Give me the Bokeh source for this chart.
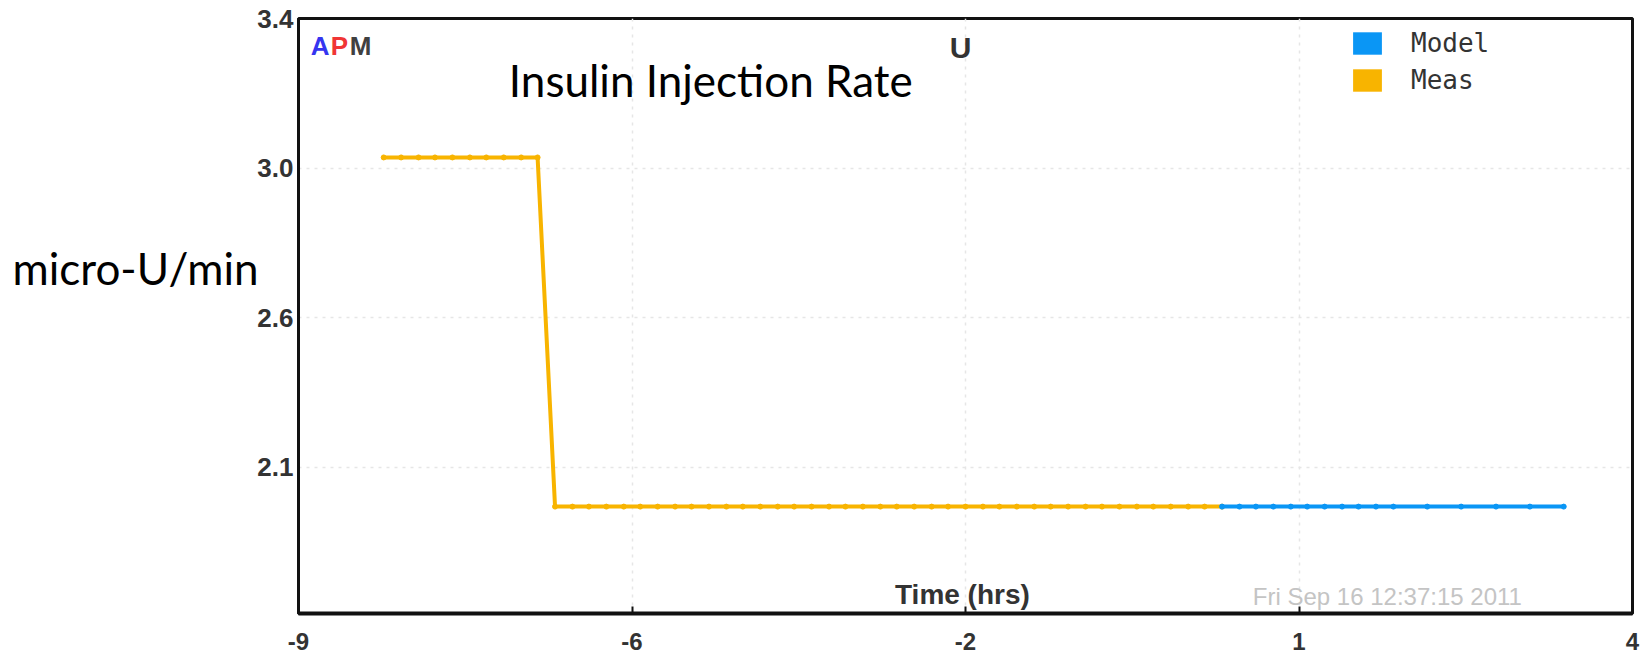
from bokeh.plotting import figure
from bokeh.models import Range1d, FixedTicker, Label, Legend, LegendItem, LinearAxis
from bokeh.embed import file_html
from bokeh.resources import INLINE

# ---- data ----
meas_t = [-8.17, -8.0, -7.83, -7.67, -7.5, -7.33, -7.17, -7.0, -6.83, -6.67,
          -6.5, -6.33, -6.17, -6.0, -5.83, -5.67, -5.5, -5.33, -5.17, -5.0,
          -4.83, -4.67, -4.5, -4.33, -4.17, -4.0, -3.83, -3.67, -3.5, -3.33,
          -3.17, -3.0, -2.83, -2.67, -2.5, -2.33, -2.17, -2.0, -1.83, -1.67,
          -1.5, -1.33, -1.17, -1.0, -0.83, -0.67, -0.5, -0.33, -0.17, 0.0]
meas_u = [3.01, 3.01, 3.01, 3.01, 3.01, 3.01, 3.01, 3.01, 3.01, 3.01,
          2.03, 2.03, 2.03, 2.03, 2.03, 2.03, 2.03, 2.03, 2.03, 2.03,
          2.03, 2.03, 2.03, 2.03, 2.03, 2.03, 2.03, 2.03, 2.03, 2.03,
          2.03, 2.03, 2.03, 2.03, 2.03, 2.03, 2.03, 2.03, 2.03, 2.03,
          2.03, 2.03, 2.03, 2.03, 2.03, 2.03, 2.03, 2.03, 2.03, 2.03]
model_t = [0.0, 0.17, 0.33, 0.5, 0.67, 0.83, 1.0, 1.17, 1.33, 1.5, 1.67,
           2.0, 2.33, 2.67, 3.0, 3.33]
model_u = [2.03, 2.03, 2.03, 2.03, 2.03, 2.03, 2.03, 2.03, 2.03, 2.03, 2.03,
           2.03, 2.03, 2.03, 2.03, 2.03]

x_ticks = [-9, -5.75, -2.5, 0.75, 4]
x_tick_labels = ["-9", "-6", "-2", "1", "4"]
y_ticks = [3.4, 2.98, 2.56, 2.14]
y_tick_labels = ["3.4", "3.0", "2.6", "2.1"]
y_caption = "micro-U/min"
y_caption_at = 2.70

MEAS_COLOR = "#F8B400"
MODEL_COLOR = "#0A96F5"

p = figure(width=1642, height=655, output_backend="svg", toolbar_location=None,
           x_range=Range1d(-9, 4), y_range=Range1d(1.73, 3.4),
           min_border_left=298, min_border_right=10,
           min_border_top=18, min_border_bottom=42)
p.background_fill_color = "white"
p.border_fill_color = "white"
p.outline_line_color = "#111111"
p.outline_line_width = 3

# axes
xa = p.xaxis[0]
xa.ticker = FixedTicker(ticks=x_ticks)
xa.major_label_overrides = {t: l for t, l in zip(x_ticks, x_tick_labels)}
xa.major_label_text_font = "Liberation Sans"
xa.major_label_text_font_style = "bold"
xa.major_label_text_font_size = "24px"
xa.major_label_text_color = "#333333"
xa.major_label_standoff = 19
xa.axis_line_color = "#111111"
xa.axis_line_width = 4
xa.major_tick_in = 7
xa.major_tick_out = 0
xa.major_tick_line_width = 2
xa.major_tick_line_color = "#111111"
xa.minor_tick_line_color = None

ya = p.yaxis[0]
ya.ticker = FixedTicker(ticks=y_ticks)
ya.major_label_overrides = {t: l for t, l in zip(y_ticks, y_tick_labels)}
ya.major_label_text_font = "Liberation Sans"
ya.major_label_text_font_style = "bold"
ya.major_label_text_font_size = "26px"
ya.major_label_text_color = "#333333"
ya.major_label_standoff = 5
ya.axis_line_color = "#111111"
ya.axis_line_width = 3
ya.major_tick_in = 0
ya.major_tick_out = 0
ya.minor_tick_line_color = None

# horizontal y caption drawn as the label of an outer, tick-less axis
cap_axis = LinearAxis(ticker=FixedTicker(ticks=[y_caption_at]),
                      major_label_overrides={y_caption_at: y_caption},
                      major_label_text_font="Lato",
                      major_label_text_font_size="44px",
                      major_label_text_color="black",
                      major_label_standoff=-10,
                      axis_line_color=None, major_tick_line_color=None,
                      minor_tick_line_color=None)
p.add_layout(cap_axis, "left")

for g in (p.xgrid[0], p.ygrid[0]):
    g.grid_line_color = "#e6e6e6"
    g.grid_line_dash = "3 5"
    g.grid_line_width = 1.5
p.xgrid[0].ticker = FixedTicker(ticks=x_ticks[1:-1])
p.ygrid[0].ticker = FixedTicker(ticks=y_ticks[1:])

# series
p.line(meas_t, meas_u, line_color=MEAS_COLOR, line_width=4)
p.scatter(meas_t, meas_u, size=5, fill_color=MEAS_COLOR, line_color=MEAS_COLOR)
p.line(model_t, model_u, line_color=MODEL_COLOR, line_width=4)
p.scatter(model_t, model_u, size=5, fill_color=MODEL_COLOR, line_color=MODEL_COLOR)

# legend with filled squares (renderers hold one undrawn NaN box)
nan = float("nan")
r_model = p.quad(left=[nan], right=[nan], top=[nan], bottom=[nan],
                 fill_color=MODEL_COLOR, line_color=None)
r_meas = p.quad(left=[nan], right=[nan], top=[nan], bottom=[nan],
                fill_color=MEAS_COLOR, line_color=None)
legend = Legend(items=[LegendItem(label="Model", renderers=[r_model]),
                       LegendItem(label="Meas", renderers=[r_meas])],
                location=(1051, 518), padding=0, margin=0, spacing=7,
                glyph_width=36, glyph_height=28, label_height=28,
                label_standoff=26, border_line_color=None,
                background_fill_alpha=0,
                label_text_font="DejaVu Sans Mono", label_text_font_size="26px",
                label_text_color="#333333")
p.add_layout(legend, "center")

# texts
def lab(x, y, text, **kw):
    p.add_layout(Label(x=x, y=y, text=text, **kw))

lab(-6.95, 3.226, "Insulin Injection Rate", text_font="Lato", text_font_size="44px",
    text_color="black", text_baseline="middle")
lab(-2.548, 3.319, "U", text_font="Liberation Sans", text_font_style="bold",
    text_font_size="30px", text_color="#333333", text_align="center", text_baseline="middle")
lab(-8.88, 3.324, "A", text_font="Liberation Sans", text_font_style="bold",
    text_font_size="26px", text_color="#3535F0", text_baseline="middle")
lab(-8.685, 3.324, "P", text_font="Liberation Sans", text_font_style="bold",
    text_font_size="26px", text_color="#F03535", text_baseline="middle")
lab(-8.50, 3.324, "M", text_font="Liberation Sans", text_font_style="bold",
    text_font_size="26px", text_color="#404040", text_baseline="middle")
lab(-2.53, 1.784, "Time (hrs)", text_font="Liberation Sans", text_font_style="bold",
    text_font_size="28px", text_color="#333333", text_align="center", text_baseline="middle")
lab(0.30, 1.779, "Fri Sep 16 12:37:15 2011", text_font="Liberation Sans",
    text_font_size="24px", text_color="#c4c4c4", text_baseline="middle")

open("out.html", "w").write(file_html(p, INLINE))
